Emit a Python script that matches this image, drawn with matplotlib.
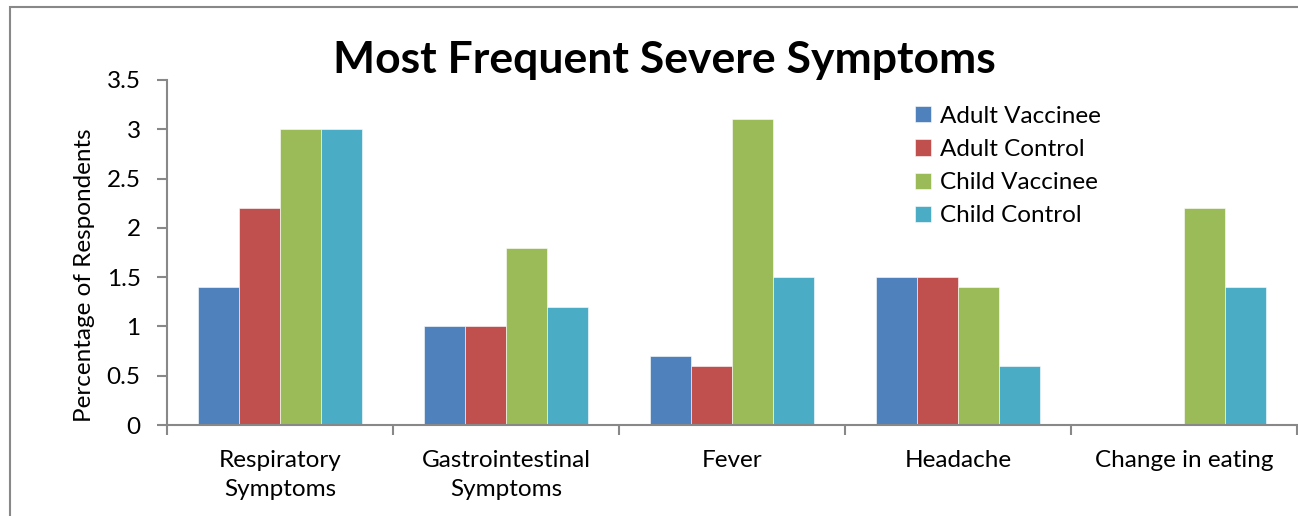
import matplotlib
matplotlib.use("Agg")
import matplotlib.pyplot as plt
import numpy as np
from matplotlib.patches import Rectangle

categories = ["Respiratory\nSymptoms", "Gastrointestinal\nSymptoms", "Fever", "Headache", "Change in eating"]
series_names = ["Adult Vaccinee", "Adult Control", "Child Vaccinee", "Child Control"]
adult_vaccinee = [1.4, 1.0, 0.7, 1.5, 0]
adult_control = [2.2, 1.0, 0.6, 1.5, 0]
child_vaccinee = [3.0, 1.8, 3.1, 1.4, 2.2]
child_control = [3.0, 1.2, 1.5, 0.6, 1.4]
colors = ["#4F81BD", "#C0504D", "#9BBB59", "#4BACC6"]
yticks = [0, 0.5, 1, 1.5, 2, 2.5, 3, 3.5]
ytick_labels = ["0", "0.5", "1", "1.5", "2", "2.5", "3", "3.5"]

plt.rcParams['font.family'] = ['Lato', 'DejaVu Sans']

fig = plt.figure(figsize=(12.98, 5.16), dpi=100)
ax = fig.add_axes([167/1298, 1-425/516, 1130/1298, 345/516])

series = [adult_vaccinee, adult_control, child_vaccinee, child_control]
x = np.arange(len(categories))
w = 1/(4+1.5)
for i, (vals, c, name) in enumerate(zip(series, colors, series_names)):
    ax.bar(x + (i-1.5)*w, vals, width=w, color=c, label=name,
           edgecolor="white", linewidth=0.4)

ax.set_xlim(-0.5, len(categories)-0.5)
ax.set_ylim(0, 3.5)
ax.set_yticks(yticks)
ax.set_yticklabels(ytick_labels)
ax.set_xticks(x)
ax.set_xticklabels(categories, fontsize=17.5, linespacing=1.45)
ax.set_xticks(np.arange(-0.5, len(categories), 1), minor=True)
ax.tick_params(axis='x', which='major', length=0, pad=18)
ax.tick_params(axis='x', which='minor', length=7, color="#888888", width=1.5)
ax.tick_params(axis='y', length=7, color="#888888", width=1.5, labelsize=17.5, pad=12)
for s in ["top", "right"]:
    ax.spines[s].set_visible(False)
for s in ["left", "bottom"]:
    ax.spines[s].set_color("#888888")
    ax.spines[s].set_linewidth(1.5)

ax.set_ylabel("Percentage of Respondents", fontsize=17.5)
ax.yaxis.set_label_coords(-72/1130, 0.435)

fig.text(664/1298, 1-60/516, "Most Frequent Severe Symptoms", fontsize=32,
         fontweight="bold", ha="center", va="center")

leg = ax.legend(loc="upper left", bbox_to_anchor=(893/1298, 1-84/516),
                bbox_transform=fig.transFigure, frameon=False, fontsize=17.5,
                handlelength=0.65, handleheight=0.65, handletextpad=0.4,
                labelspacing=0.5)

fig.patches.append(Rectangle((10/1298, -0.1), 1.2, 1-7/516+0.1,
                             transform=fig.transFigure, fill=False,
                             edgecolor="#888888", linewidth=1.5))

fig.savefig("out.png", dpi=100)
